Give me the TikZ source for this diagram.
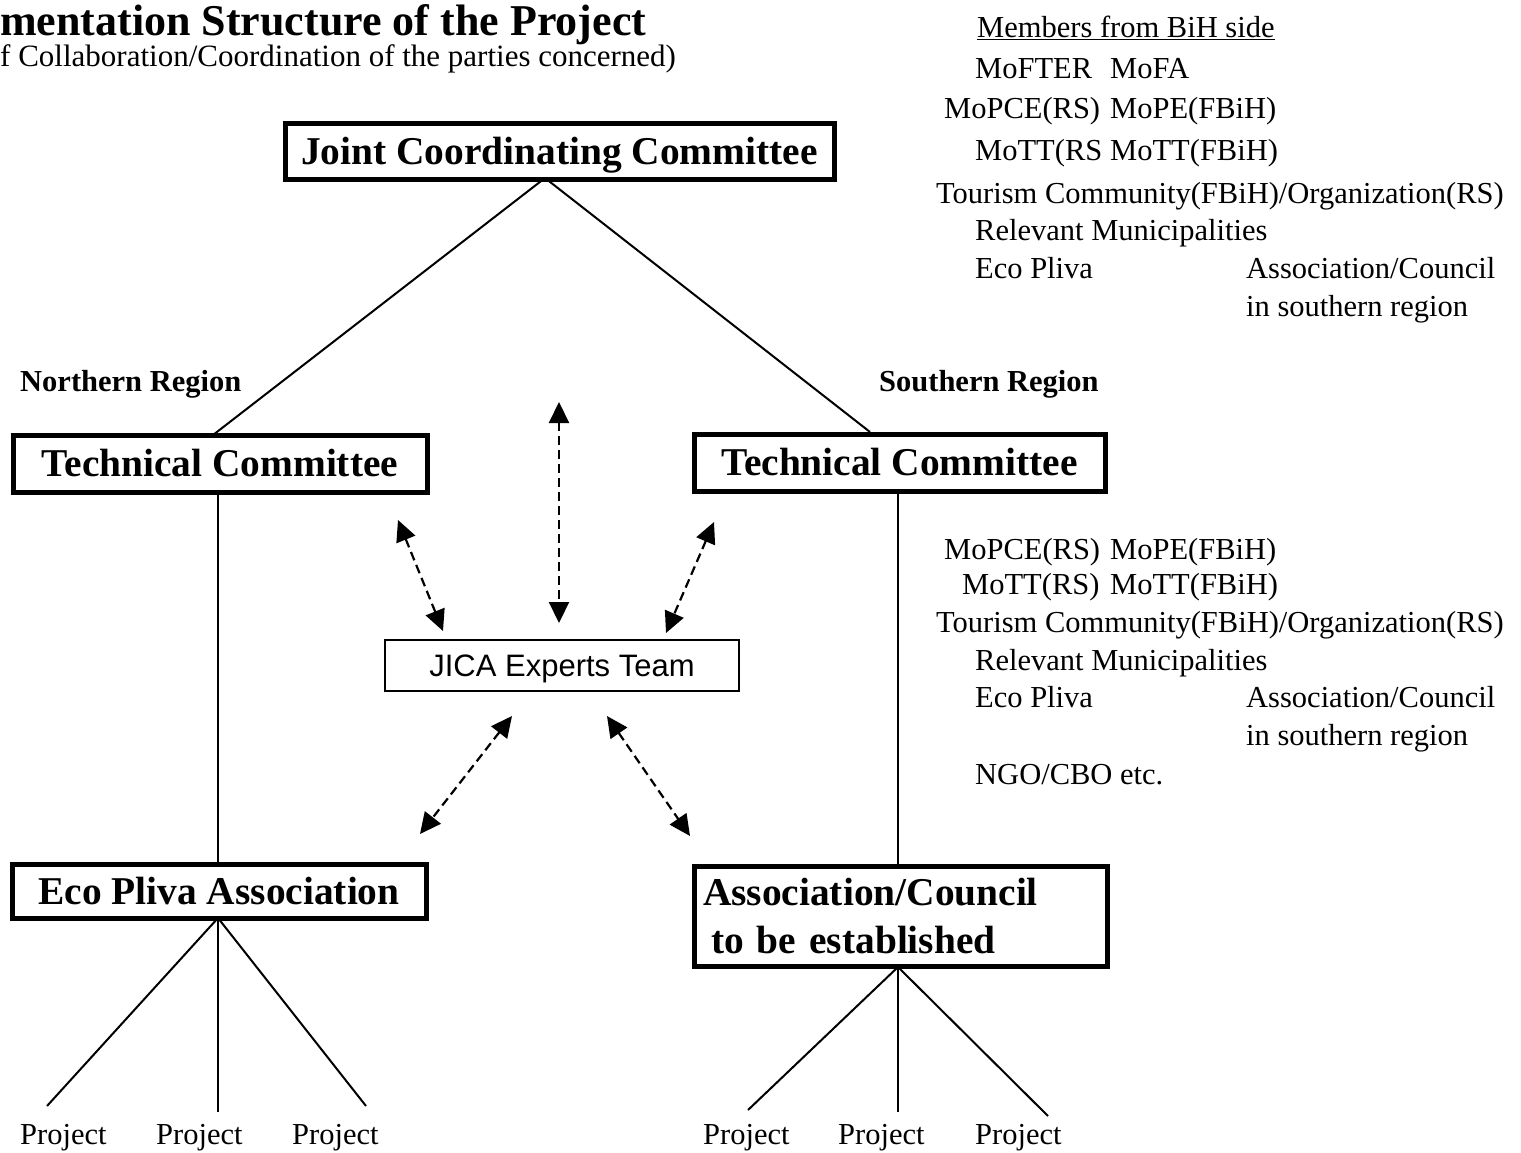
\documentclass[tikz,border=0pt]{standalone}
\usepackage{fontspec}
\setmainfont{Liberation Serif}
\newfontfamily\jicafont{Liberation Sans}
\usetikzlibrary{arrows.meta}
\begin{document}
\begin{tikzpicture}[x=1pt,y=-1pt,
  bigbox/.style={draw, line width=5pt, inner sep=0pt,
    font=\fontsize{39.4}{46}\selectfont\bfseries, text height=26pt, text depth=0pt},
  body/.style={anchor=base west, inner sep=0pt, font=\fontsize{30.5}{36}\selectfont},
  region/.style={anchor=base west, inner sep=0pt, font=\fontsize{30.5}{36}\selectfont\bfseries},
  link/.style={line width=2pt},
  dasharrow/.style={line width=2.2pt, dash pattern=on 9pt off 5pt,
    {Triangle[length=21pt,width=20pt]}-{Triangle[length=21pt,width=20pt]}}
]
\useasboundingbox (0,0) rectangle (1521,1152);

% title
\node[anchor=base west, inner sep=0pt, text depth=0pt, font=\fontsize{44}{50}\selectfont\bfseries] (title) at (0,35) {mentation Structure of the Project};
\node[anchor=base west, inner sep=0pt, text height=20pt, font=\fontsize{31}{36}\selectfont] (subtitle) at (0,66) {f Collaboration/Coordination of the parties concerned)};

% boxes
\node[bigbox, minimum width=549pt, minimum height=56pt] (jcc) at (559.5,151) {Joint Coordinating Committee};
\node[bigbox, minimum width=414pt, minimum height=57pt] (tcl) at (220,463.5) {Technical Committee};
\node[bigbox, minimum width=411pt, minimum height=57pt] (tcr) at (899.5,462.5) {Technical Committee};
\node[bigbox, minimum width=414pt, minimum height=54pt] (eco) at (219,891) {Eco Pliva Association};
\node[draw, line width=5pt, inner sep=0pt, minimum width=413pt, minimum height=100pt,
      text width=395pt, align=left, font=\fontsize{39.4}{48}\selectfont\bfseries] (assoc) at (900.5,916)
      {Association/Council\\\hspace*{8pt}to be established};
\node[draw, line width=1.6pt, inner sep=0pt, minimum width=354pt, minimum height=51pt,
      font=\fontsize{31}{36}\selectfont\jicafont, text height=22pt, text depth=0pt] (jica) at (562,665.5) {JICA Experts Team};

% region labels
\node[region] (north) at (20,391) {Northern Region};
\node[region] (south) at (879,391) {Southern Region};

% tree connectors
\coordinate (apex) at (545,178);
\coordinate (tcltop) at (213,435);
\coordinate (tcrtop) at (870,432);
\draw[link] (apex) -- (tcltop);
\draw[link] (apex) -- (tcrtop);
\draw[link] (tcl.south -| 218,0) -- (eco.north -| 218,0);
\draw[link] (tcr.south -| 898,0) -- (assoc.north -| 898,0);

% projects
\node[body] (p1) at (20,1144) {Project};
\node[body] (p2) at (156,1144) {Project};
\node[body] (p3) at (292,1144) {Project};
\node[body] (p4) at (703,1144) {Project};
\node[body] (p5) at (838,1144) {Project};
\node[body] (p6) at (975,1144) {Project};
\coordinate (e1) at (47,1106);
\coordinate (e2) at (218,1112);
\coordinate (e3) at (366,1106);
\coordinate (a1) at (748,1110);
\coordinate (a2) at (898,1112);
\coordinate (a3) at (1048,1116);
\coordinate (ecobot) at (218,918);
\coordinate (assocbot) at (898,967);
\foreach \e in {e1,e2,e3} \draw[link] (ecobot) -- (\e);
\foreach \a in {a1,a2,a3} \draw[link] (assocbot) -- (\a);

% dashed arrows
\coordinate (v1) at (559,402); \coordinate (v2) at (559,623);
\coordinate (l1) at (398,520); \coordinate (l2) at (443,631);
\coordinate (r1) at (714,522); \coordinate (r2) at (666,633);
\coordinate (bl1) at (512,716); \coordinate (bl2) at (420,834);
\coordinate (br1) at (607,716); \coordinate (br2) at (690,836);
\draw[dasharrow] (v1) -- (v2);
\draw[dasharrow] (l1) -- (l2);
\draw[dasharrow] (r1) -- (r2);
\draw[dasharrow] (bl1) -- (bl2);
\draw[dasharrow] (br1) -- (br2);

% members list (top)
\node[body] (mh) at (977,37) {\underline{Members from BiH side}};
\node[body] (m1a) at (975,78) {MoFTER};
\node[body] (m1b) at (1110,78) {MoFA};
\node[body] (m2a) at (944,118) {MoPCE(RS)};
\node[body] (m2b) at (1110,118) {MoPE(FBiH)};
\node[body] (m3a) at (975,160) {MoTT(RS};
\node[body] (m3b) at (1110,160) {MoTT(FBiH)};
\node[body] (m4) at (936,203) {Tourism Community(FBiH)/Organization(RS)};
\node[body] (m5) at (975,240) {Relevant Municipalities};
\node[body] (m6a) at (975,278) {Eco Pliva};
\node[body] (m6b) at (1246,278) {Association/Council};
\node[body] (m7) at (1246,316) {in southern region};

% members list (southern technical committee)
\node[body] (s1a) at (944,559) {MoPCE(RS)};
\node[body] (s1b) at (1110,559) {MoPE(FBiH)};
\node[body] (s2a) at (962,594) {MoTT(RS)};
\node[body] (s2b) at (1110,594) {MoTT(FBiH)};
\node[body] (s3) at (936,632) {Tourism Community(FBiH)/Organization(RS)};
\node[body] (s4) at (975,670) {Relevant Municipalities};
\node[body] (s5a) at (975,707) {Eco Pliva};
\node[body] (s5b) at (1246,707) {Association/Council};
\node[body] (s6) at (1246,745) {in southern region};
\node[body] (s7) at (975,784) {NGO/CBO etc.};
\end{tikzpicture}
\end{document}
